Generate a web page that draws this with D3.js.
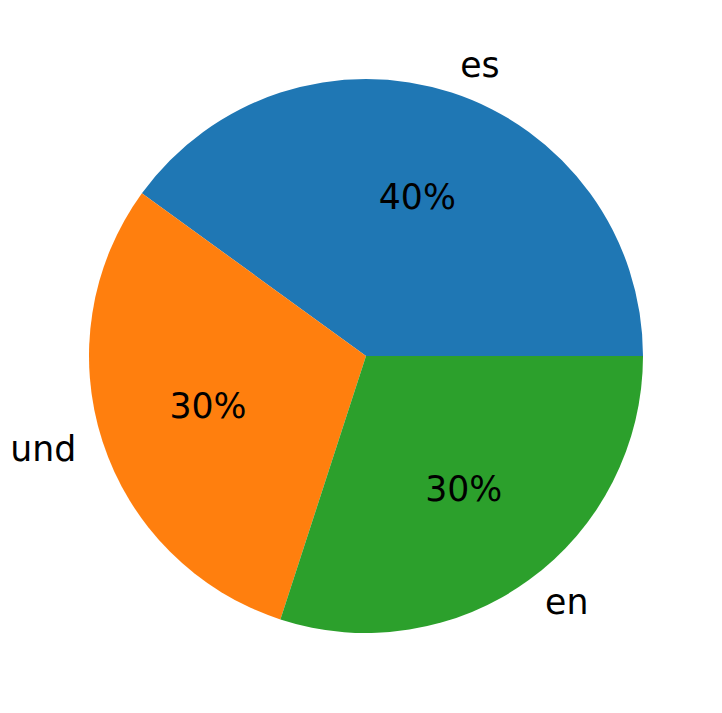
<!DOCTYPE html>
<html>
<head>
<meta charset="utf-8">
<script src="https://cdn.jsdelivr.net/npm/d3@7"></script>
<style>
  html, body { margin: 0; padding: 0; background: #fff; }
  svg { display: block; }
  text { font-family: "DejaVu Sans", sans-serif; }
</style>
</head>
<body>
<svg id="chart" width="722" height="713"></svg>
<script>
const categories = ["es", "und", "en"];
const values = [40, 30, 30];
const colors = ["#1f77b4", "#ff7f0e", "#2ca02c"];

const width = 722, height = 713;
const cx = 366, cy = 356, radius = 277;
const fontSize = 34.7;

const svg = d3.select("#chart");
const g = svg.append("g").attr("transform", `translate(${cx},${cy})`);

const data = categories.map((c, i) => ({ cat: c, value: values[i], color: colors[i] }));
const total = d3.sum(values);

const pie = d3.pie()
  .value(d => d.value)
  .sort(null)
  .startAngle(Math.PI / 2)
  .endAngle(Math.PI / 2 - 2 * Math.PI);

const arcs = pie(data);
const arc = d3.arc().innerRadius(0).outerRadius(radius);

g.selectAll("path.slice")
  .data(arcs)
  .enter().append("path")
  .attr("class", "slice")
  .attr("d", arc)
  .attr("fill", d => d.data.color);

function pos(a, r) { return [Math.sin(a) * r, -Math.cos(a) * r]; }

arcs.forEach(d => {
  const mid = (d.startAngle + d.endAngle) / 2;
  const [lx, ly] = pos(mid, radius * 1.1);
  g.append("text")
    .attr("x", lx).attr("y", ly - 1)
    .attr("text-anchor", lx > 0 ? "start" : "end")
    .attr("dominant-baseline", "central")
    .attr("font-size", fontSize)
    .attr("fill", "#000")
    .text(d.data.cat);
  const [px, py] = pos(mid, radius * 0.6);
  g.append("text")
    .attr("x", px).attr("y", py - 1)
    .attr("text-anchor", "middle")
    .attr("dominant-baseline", "central")
    .attr("font-size", fontSize)
    .attr("fill", "#000")
    .text(d3.format(".0f")(d.value / total * 100) + "%");
});
</script>
</body>
</html>
